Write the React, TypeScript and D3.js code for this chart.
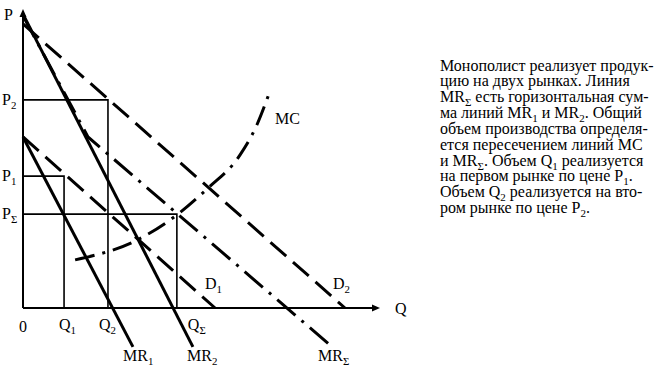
import * as d3 from 'd3';

// Chart units: Q and P both run 0..100 along the axes
const AXIS_MAX = 100;

// Quantity marks: Q1, Q2, QΣ
const Q_MARKS = [11.5, 23.8, 43.1];
const Q_NAMES = ['1', '2', 'Σ'];
// Price marks matched to them: P1, P2, PΣ
const P_MARKS = [44.1, 69.6, 31.4];
const P_NAMES = ['1', '2', 'Σ'];

// Demand curves (dashed)
const D1 = [[0, 57.2], [53.8, 0]];
const D2 = [[0, 95.0], [90.2, 0]];
// Marginal revenue (solid)
const MR1 = [[0, 57.2], [30.8, -13.0]];
const MR2 = [[0, 98.3], [47.6, -13.0]];
// Horizontal sum of MR1 and MR2 (dash-dot, kinked where MR1 starts)
const MR_SUM = [[0, 97.7], [18.2, 57.2], [86.6, -13.0]];
// Marginal cost (dash-dot curve)
const MC = [[14.6, 16.1], [31.9, 22.7], [43.4, 31.4], [51.8, 40.1], [60.8, 51.2], [65.5, 61.2], [68.9, 71.6]];

// Note on the right; [text, sub] pieces per line
const NOTE: [string, string?][][] = [
  [['Монополист реализует продук-']],
  [['цию на двух рынках. Линия']],
  [['MR', 'Σ'], [' есть горизонтальная сум-']],
  [['ма линий MR', '1'], [' и MR', '2'], ['. Общий']],
  [['объем производства определя-']],
  [['ется пересечением линий MC']],
  [['и MR', 'Σ'], ['. Объем Q', '1'], [' реализуется']],
  [['на первом рынке по цене P', '1'], ['.']],
  [['Объем Q', '2'], [' реализуется на вто-']],
  [['ром рынке по цене P', '2'], ['.']],
];

const FONT = '"Liberation Serif", "Times New Roman", serif';

function Label({ x, y, main, sub, size = 16 }: { x: number; y: number; main: string; sub?: string; size?: number }) {
  return (
    <text x={x} y={y} fontSize={size} fontFamily={FONT} fill="#000">
      {main}
      {sub && (
        <tspan fontSize={size * 0.68} dy={4}>
          {sub}
        </tspan>
      )}
    </text>
  );
}

export default function App() {
  const width = 656;
  const height = 371;

  const x = d3.scaleLinear().domain([0, AXIS_MAX]).range([23, 380]);
  const y = d3.scaleLinear().domain([0, AXIS_MAX]).range([308, 9]);

  const line = d3
    .line<number[]>()
    .x((d) => x(d[0]))
    .y((d) => y(d[1]));
  const curve = d3
    .line<number[]>()
    .x((d) => x(d[0]))
    .y((d) => y(d[1]))
    .curve(d3.curveMonotoneX);

  const x0 = x(0);
  const y0 = y(0);
  const xEnd = x(AXIS_MAX);
  const yEnd = y(AXIS_MAX);

  // Q labels sit left of their lines except QΣ
  const qLabelShift = [-5, -9, 11];

  return (
    <svg
      width={width}
      height={height}
      style={{ position: 'absolute', left: 0, top: 0, background: '#fff' }}
    >
      {/* guide rectangles */}
      {Q_MARKS.map((q, i) => (
        <path
          key={'g' + i}
          d={`M${x0},${y(P_MARKS[i])}H${x(q)}V${y0}`}
          fill="none"
          stroke="#000"
          strokeWidth={1.6}
        />
      ))}

      {/* axes */}
      <line x1={x0} y1={y0} x2={xEnd - 4} y2={y0} stroke="#000" strokeWidth={2} />
      <line x1={x0} y1={y0} x2={x0} y2={yEnd + 4} stroke="#000" strokeWidth={2} />
      <path d={`M${xEnd},${y0}l-8,-3.5v7z`} fill="#000" />
      <path d={`M${x0},${yEnd}l-3.5,8h7z`} fill="#000" />

      {/* curves */}
      <path d={line(D1) || ''} fill="none" stroke="#000" strokeWidth={3} strokeDasharray="21,9" />
      <path d={line(D2) || ''} fill="none" stroke="#000" strokeWidth={3} strokeDasharray="21,9" />
      <path d={line(MR1) || ''} fill="none" stroke="#000" strokeWidth={3} />
      <path d={line(MR2) || ''} fill="none" stroke="#000" strokeWidth={3} />
      <path d={line(MR_SUM) || ''} fill="none" stroke="#000" strokeWidth={3} strokeDasharray="24,8,3,8" />
      <path d={curve(MC) || ''} fill="none" stroke="#000" strokeWidth={3} strokeDasharray="20,8,3,8" />

      {/* axis labels */}
      <Label x={4} y={20} main="P" />
      <Label x={395} y={y0 + 6} main="Q" />
      <Label x={19} y={332} main="0" />
      {P_MARKS.map((p, i) => (
        <Label key={'p' + i} x={2} y={y(p) + 5} main="P" sub={P_NAMES[i]} />
      ))}
      {Q_MARKS.map((q, i) => (
        <Label key={'q' + i} x={x(q) + qLabelShift[i]} y={330} main="Q" sub={Q_NAMES[i]} />
      ))}

      {/* curve labels */}
      <Label x={123} y={361} main="MR" sub="1" />
      <Label x={187} y={361} main="MR" sub="2" />
      <Label x={318} y={361} main="MR" sub="Σ" />
      <Label x={205} y={289} main="D" sub="1" />
      <Label x={333} y={289} main="D" sub="2" />
      <Label x={275} y={124} main="MC" />

      {/* note */}
      {NOTE.map((parts, i) => (
        <text key={'n' + i} x={440} y={70.5 + i * 15.85} fontSize={16} fontFamily={FONT} fill="#000">
          {parts.map(([t, s], j) => {
            const back = j > 0 && parts[j - 1][1] ? -4 : 0;
            return [
              <tspan key={j + 't'} dy={back}>
                {t}
              </tspan>,
              s ? (
                <tspan key={j + 's'} fontSize={11} dy={4}>
                  {s}
                </tspan>
              ) : null,
            ];
          })}
        </text>
      ))}
    </svg>
  );
}
